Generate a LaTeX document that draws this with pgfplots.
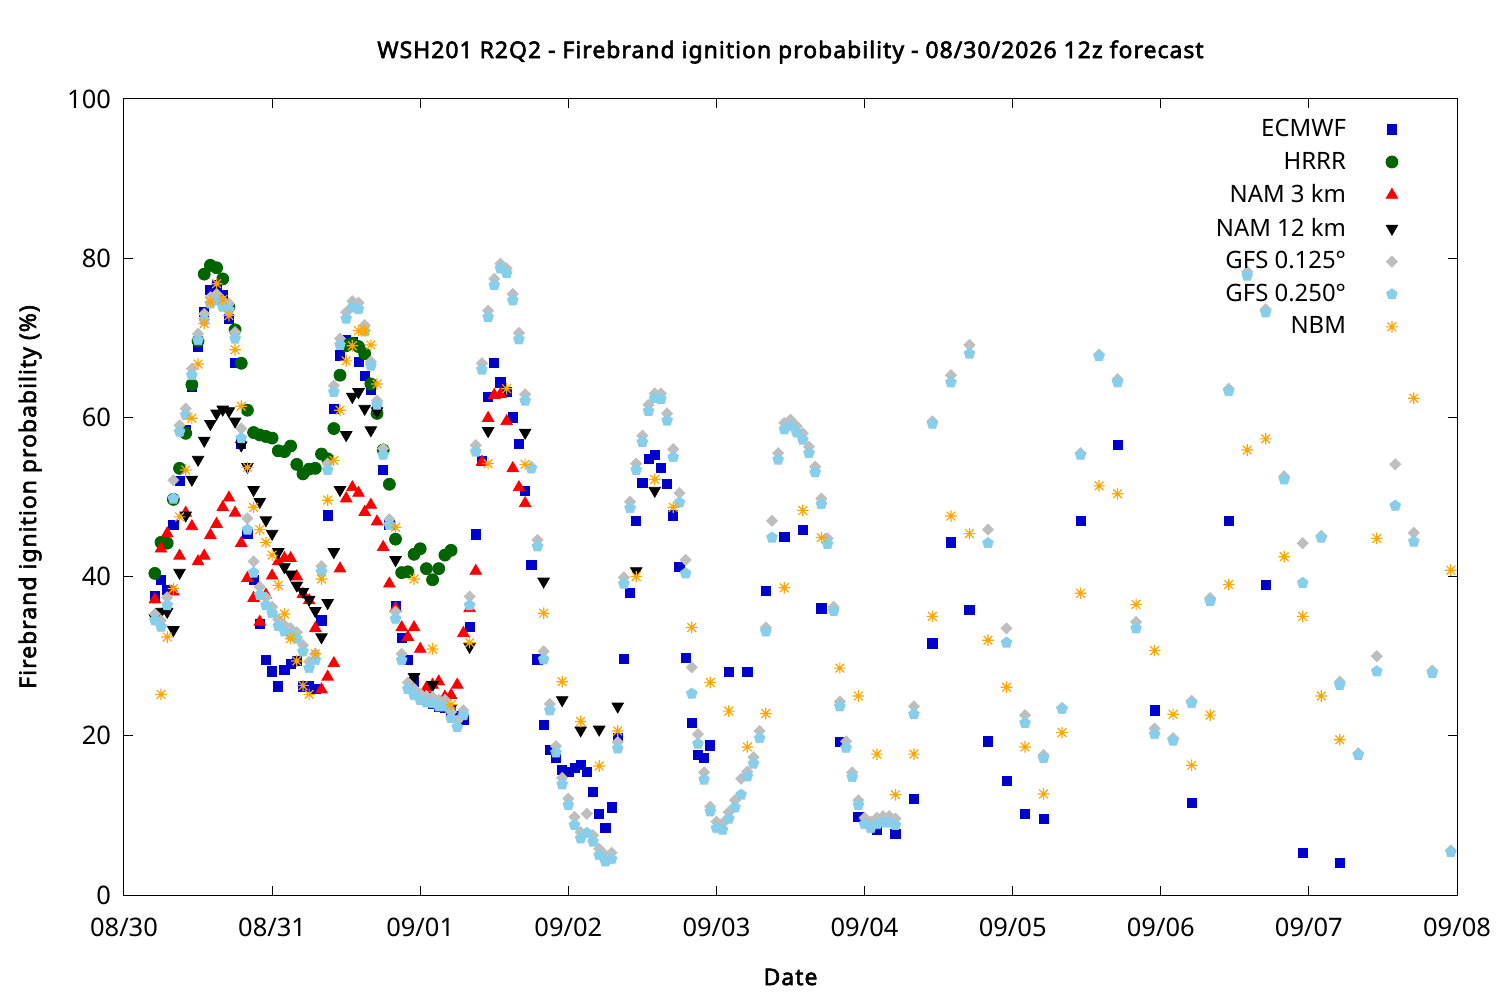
\documentclass[border=0pt]{standalone}
\usepackage{fontspec}
\setmainfont{Noto Sans}
\newfontfamily\bfam{Noto Sans}[FakeBold=2.5, LetterSpace=4.5]
\usepackage{pgfplots}
\pgfplotsset{compat=1.18}
\usetikzlibrary{plotmarks}
\definecolor{ecm}{RGB}{0,0,204}
\definecolor{hrrr}{RGB}{0,100,0}
\definecolor{namthree}{RGB}{255,0,0}
\definecolor{gfsa}{RGB}{190,190,190}
\definecolor{gfsb}{RGB}{135,206,235}
\definecolor{nbm}{RGB}{255,165,0}
\pgfdeclareplotmark{gpstar}{%
  \pgfpathmoveto{\pgfqpoint{-\pgfplotmarksize}{0pt}}\pgfpathlineto{\pgfqpoint{\pgfplotmarksize}{0pt}}%
  \pgfpathmoveto{\pgfqpoint{0pt}{-\pgfplotmarksize}}\pgfpathlineto{\pgfqpoint{0pt}{\pgfplotmarksize}}%
  \pgfpathmoveto{\pgfqpoint{-.75\pgfplotmarksize}{-.75\pgfplotmarksize}}\pgfpathlineto{\pgfqpoint{.75\pgfplotmarksize}{.75\pgfplotmarksize}}%
  \pgfpathmoveto{\pgfqpoint{-.75\pgfplotmarksize}{.75\pgfplotmarksize}}\pgfpathlineto{\pgfqpoint{.75\pgfplotmarksize}{-.75\pgfplotmarksize}}%
  \pgfusepathqstroke}
\begin{document}
\begin{tikzpicture}
\useasboundingbox (-62bp,-52.5bp) rectangle (688bp,447.5bp);
\begin{axis}[
  at={(0,0)}, anchor=south west, scale only axis,
  width=666.5bp, height=398bp,
  xmin=0, xmax=216, ymin=0, ymax=100,
  xtick={0,24,...,216},
  xticklabels={08/30,08/31,09/01,09/02,09/03,09/04,09/05,09/06,09/07,09/08},
  ytick={0,20,...,100},
  tick align=inside, major tick length=4.5bp,
  axis line style={line width=0.5bp},
  every tick/.style={line width=0.5bp, black},
  ticklabel style={font=\fontsize{12.8}{14}\selectfont},
  /pgf/number format/assume math mode=true,
  xticklabel style={yshift=-8bp},
  yticklabel style={xshift=-3bp},
  title={\bfam WSH201 R2Q2 - Firebrand ignition probability - 08/30/2026 12z forecast},
  title style={font=\fontsize{11.5}{13}\selectfont, at={(axis description cs:0.5,1.044)}, anchor=center},
  xlabel={\bfam Date},
  xlabel style={font=\fontsize{11.5}{13}\selectfont, at={(axis description cs:0.5,-0.103)}, anchor=center, yshift=0pt},
  ylabel={\bfam Firebrand ignition probability (\%)},
  ylabel style={font=\fontsize{11.5}{13}\selectfont, at={(axis description cs:-0.0705,0.5)}, anchor=center},
  legend plot pos=right,
  legend cell align=right,
  every axis plot post/.append style={legend image code/.code={\path[draw=none,fill=none] (0bp,-1bp) rectangle (23bp,1bp); \draw[only marks,mark repeat=2,mark phase=2] plot coordinates {(0bp,0bp) (21bp,0bp) (23bp,0bp)};}},
  legend style={draw=none, fill=none, font=\fontsize{12}{14}\selectfont, at={(rel axis cs:0.956,0.98)}, anchor=north east, row sep=2.2bp, inner sep=0pt},
  clip=false,
]
% ECMWF
\addplot[only marks, mark=square*, mark size=2.3bp, color=ecm] table {
5 37.5
6 39.6
7 38.3
8 46.5
9 52.0
10 58.4
11 63.9
12 68.9
13 73.3
14 76.0
15 76.6
16 75.4
17 72.4
18 66.8
19 56.7
20 45.4
21 39.6
22 34.1
23 29.5
24 28.1
25 26.2
26 28.3
27 29.0
28 29.4
29 26.2
30 26.2
31 25.9
32 34.5
33 47.7
34 61.1
35 67.8
36 69.7
37 69.5
38 67.0
39 65.2
40 63.5
41 60.8
42 53.4
43 46.5
44 36.3
45 32.3
46 29.5
47 26.8
48 25.3
49 24.9
50 24.0
51 23.7
52 23.5
53 23.0
54 22.5
55 22.0
56 33.7
57 45.3
58 54.5
59 62.6
60 66.8
61 64.4
62 63.2
63 60.0
64 56.7
65 50.8
66 41.5
67 29.6
68 21.4
69 18.2
70 17.2
71 15.7
72 15.5
73 16.0
74 16.3
75 15.5
76 13.0
77 10.2
78 8.4
79 11.0
80 19.7
81 29.7
82 38.0
83 47.0
84 51.8
85 54.8
86 55.3
87 53.7
88 51.6
89 47.7
90 41.2
91 29.8
92 21.6
93 17.6
94 17.2
95 18.8
98 28.0
101 28.0
104 38.2
107 45.0
110 45.9
113 36.0
116 19.2
119 9.8
122 8.2
125 7.7
128 12.1
131 31.6
134 44.3
137 35.8
140 19.3
143 14.3
146 10.2
149 9.6
155 47.0
161 56.5
167 23.2
173 11.6
179 47.0
185 39.0
191 5.3
197 4.0
};
\addlegendentry{ECMWF}
% HRRR
\addplot[only marks, mark=*, mark size=3.0bp, color=hrrr] table {
5 40.4
6 44.3
7 44.2
8 49.7
9 53.6
10 58.0
11 64.1
12 69.6
13 78.0
14 79.1
15 78.8
16 77.4
17 73.9
18 71.0
19 66.8
20 60.9
21 58.1
22 57.8
23 57.6
24 57.4
25 55.8
26 55.7
27 56.4
28 54.1
29 52.9
30 53.5
31 53.6
32 55.4
33 54.8
34 58.6
35 65.3
36 69.0
37 69.3
38 68.9
39 68.0
40 64.2
41 60.5
42 55.9
43 51.6
44 44.7
45 40.5
46 40.6
47 42.8
48 43.5
49 41.0
50 39.6
51 41.0
52 42.7
53 43.3
};
\addlegendentry{HRRR}
% NAM 3 km
\addplot[only marks, mark=triangle*, mark size=3.3bp, color=namthree] table {
5 37.1
6 43.5
7 45.4
8 38.1
9 42.6
10 48.0
11 46.3
12 41.9
13 42.6
14 45.2
15 46.6
16 48.7
17 49.9
18 48.0
19 44.2
20 39.8
21 37.3
22 34.3
23 37.7
24 40.1
25 41.9
26 42.3
27 42.3
28 40.0
29 37.8
30 37.0
31 33.5
32 25.8
33 27.4
34 29.1
35 41.0
36 49.8
37 51.2
38 50.5
39 48.1
40 49.0
41 46.9
42 43.7
43 39.1
44 36.0
45 33.6
46 32.4
47 33.6
48 30.9
49 26.0
50 26.4
51 26.8
52 24.9
53 25.1
54 26.4
55 32.9
56 36.0
57 40.7
58 54.4
59 59.9
60 62.8
61 62.9
62 59.5
63 53.6
64 51.2
65 49.2
};
\addlegendentry{NAM 3 km}
% NAM 12 km
\addplot[only marks, mark=triangle*, mark size=3.3bp, mark options={rotate=180}, color=black] table {
5 34.8
6 35.6
7 35.6
8 33.3
9 40.5
10 47.7
11 52.2
12 54.7
13 57.1
14 59.2
15 60.5
16 61.0
17 60.8
18 59.5
19 56.5
20 53.8
21 50.9
22 49.4
23 47.1
24 45.4
25 43.1
26 41.2
27 40.3
28 38.9
29 38.1
30 37.1
31 35.7
32 32.4
33 36.7
34 43.1
35 50.9
36 57.8
37 62.6
38 63.2
39 61.1
40 58.4
41 60.8
44 42.1
47 27.4
50 26.4
53 23.5
56 31.2
59 58.3
65 58.1
68 39.4
71 24.5
74 20.7
77 20.8
80 23.7
83 40.7
86 50.8
};
\addlegendentry{NAM 12 km}
% GFS 0.125
\addplot[only marks, mark=square*, mark size=1.95bp, mark options={rotate=45}, color=gfsa] table {
5 35.3
6 34.5
7 37.4
8 52.1
9 59.0
10 61.1
11 66.1
12 70.5
13 73.0
14 75.1
15 75.5
16 74.7
17 74.3
18 70.7
19 58.6
20 47.3
21 41.9
22 38.7
23 37.4
24 36.2
25 34.6
26 33.9
27 33.5
28 33.0
29 31.4
30 29.3
31 30.3
32 41.3
33 54.2
34 64.0
35 69.9
36 73.2
37 74.6
38 74.4
39 71.6
40 67.0
41 62.1
42 56.1
43 47.2
44 35.6
45 30.3
46 26.7
47 25.9
48 25.3
49 25.0
50 24.9
51 24.5
52 24.5
53 23.0
54 21.9
55 23.2
56 37.5
57 56.5
58 66.8
59 73.4
60 77.4
61 79.3
62 78.7
63 75.5
64 70.6
65 62.9
66 53.8
67 44.6
68 30.6
69 24.0
70 18.7
71 14.7
72 12.1
73 9.8
74 7.9
75 10.2
76 7.5
77 5.8
78 5.0
79 5.3
80 19.2
81 39.9
82 49.4
83 54.2
84 57.7
85 61.6
86 63.0
87 63.0
88 60.5
89 56.0
90 50.5
91 42.1
92 28.6
93 20.2
94 15.4
95 11.1
96 9.2
97 9.0
98 10.4
99 11.9
100 14.6
101 15.5
102 17.3
103 20.6
104 33.6
105 47.0
106 55.5
107 59.3
108 59.7
109 58.9
110 58.0
111 56.3
112 53.8
113 49.8
114 44.8
115 36.2
116 24.3
117 19.3
118 15.4
119 11.9
120 9.7
121 9.2
122 9.7
123 9.9
124 9.9
125 9.6
128 23.7
131 59.5
134 65.3
137 69.1
140 45.9
143 33.5
146 22.6
149 17.6
152 23.5
155 55.5
158 67.9
161 64.8
164 34.3
167 20.9
170 19.7
173 24.4
176 37.3
179 63.6
182 78.3
185 73.6
188 52.6
191 44.2
194 45.1
197 26.8
200 17.8
203 30.0
206 54.1
209 45.5
212 28.2
215 5.6
};
\addlegendentry{GFS 0.125°}
% GFS 0.250
\addplot[only marks, mark=pentagon*, mark size=2.8bp, color=gfsb] table {
5 34.5
6 33.7
7 36.4
8 49.8
9 58.2
10 60.3
11 65.3
12 69.7
13 72.2
14 74.3
15 74.7
16 73.9
17 73.5
18 69.9
19 57.4
20 45.9
21 40.5
22 37.7
23 36.4
24 35.4
25 33.8
26 33.1
27 32.7
28 32.2
29 30.6
30 28.5
31 29.5
32 40.6
33 53.4
34 63.2
35 69.1
36 72.4
37 73.8
38 73.6
39 70.8
40 66.5
41 61.6
42 55.3
43 46.5
44 34.7
45 29.5
46 25.9
47 25.1
48 24.5
49 24.2
50 24.1
51 23.7
52 23.7
53 22.2
54 21.1
55 22.6
56 36.4
57 55.7
58 66.0
59 72.6
60 76.6
61 78.7
62 78.1
63 74.7
64 69.8
65 62.1
66 53.6
67 43.8
68 29.6
69 23.2
70 17.9
71 13.9
72 11.3
73 8.8
74 7.1
75 7.8
76 6.7
77 5.0
78 4.2
79 4.5
80 18.4
81 39.1
82 48.6
83 53.4
84 56.9
85 60.8
86 62.4
87 62.3
88 59.6
89 55.0
90 49.3
91 40.4
92 25.3
93 19.0
94 14.5
95 10.5
96 8.4
97 8.2
98 9.6
99 11.0
100 12.6
101 14.9
102 16.5
103 19.7
104 33.1
105 44.9
106 54.7
107 58.5
108 58.9
109 58.1
110 57.2
111 55.5
112 53.1
113 49.1
114 44.1
115 35.7
116 23.7
117 18.5
118 14.8
119 11.3
120 8.9
121 8.4
122 8.9
123 9.1
124 9.1
125 8.8
128 22.7
131 59.2
134 64.4
137 68.0
140 44.2
143 31.7
146 21.6
149 17.2
152 23.4
155 55.3
158 67.7
161 64.4
164 33.5
167 20.2
170 19.4
173 24.1
176 36.9
179 63.3
182 77.8
185 73.2
188 52.2
191 39.2
194 44.9
197 26.4
200 17.6
203 28.1
206 48.9
209 44.4
212 27.9
215 5.4
};
\addlegendentry{GFS 0.250°}
% NBM
\addplot[only marks, mark=gpstar, mark size=2.9bp, mark options={line width=0.6bp}, color=nbm] table {
6 25.2
7 32.4
8 38.5
9 47.5
10 53.4
11 59.9
12 66.7
13 71.8
14 74.5
15 76.8
16 74.8
17 72.8
18 68.5
19 61.4
20 53.7
21 48.7
22 45.9
23 44.3
24 42.7
25 38.9
26 35.3
27 32.2
28 29.4
29 26.3
30 25.2
31 30.3
32 39.7
33 49.6
34 54.6
35 60.9
36 67.1
37 69.0
38 70.9
39 70.9
40 69.1
41 64.2
44 46.2
47 39.7
50 30.9
53 23.9
56 31.7
59 54.2
62 63.6
65 54.1
68 35.4
71 26.8
74 21.8
77 16.2
80 20.6
83 40.0
86 52.2
89 48.7
92 33.6
95 26.7
98 23.1
101 18.6
104 22.8
107 38.6
110 48.3
113 44.9
116 28.5
119 25.0
122 17.7
125 12.6
128 17.7
131 35.0
134 47.6
137 45.4
140 32.0
143 26.1
146 18.6
149 12.7
152 20.4
155 37.9
158 51.4
161 50.4
164 36.5
167 30.7
170 22.7
173 16.3
176 22.6
179 39.0
182 55.9
185 57.3
188 42.5
191 35.0
194 25.0
197 19.5
203 44.8
209 62.4
215 40.8
};
\addlegendentry{NBM}
\end{axis}
\end{tikzpicture}
\end{document}
